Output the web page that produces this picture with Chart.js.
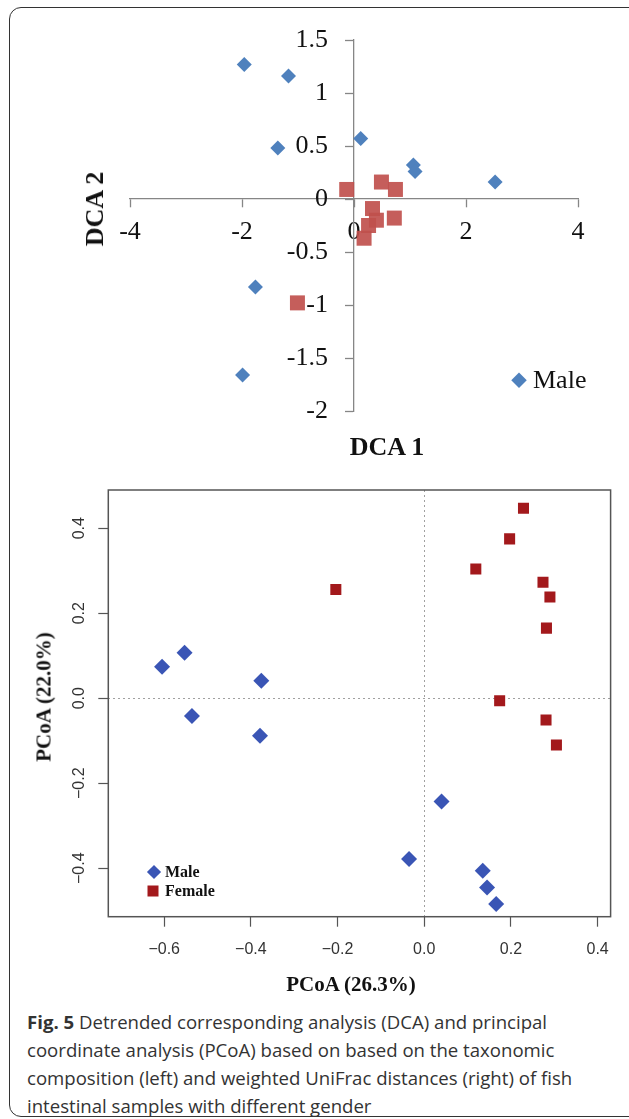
<!DOCTYPE html>
<html>
<head>
<meta charset="utf-8">
<title>Fig. 5 DCA and PCoA by gender</title>
<script src="https://cdn.jsdelivr.net/npm/chart.js@4.4.1/dist/chart.umd.min.js"></script>
<style>
  body { margin: 0; background: #fff; }
  #page { position: relative; width: 629px; height: 1119px; overflow: hidden; }
  #frame { position: absolute; left: 9px; top: 7px; width: 640px; height: 1110px;
           border: 1.5px solid #333; border-radius: 12px; box-sizing: border-box; }
  canvas { position: absolute; left: 0; }
  .lbl { position: absolute; white-space: nowrap; line-height: 1; color: #111;
         font-family: "Liberation Serif", "Times New Roman", serif; }
  .mid { transform: translate(-50%, -50%); }
  .rot { transform: translate(-50%, -50%) rotate(-90deg); }
  .leg { transform: translateY(-50%); }
  .mark { position: absolute; transform: translate(-50%, -50%); }
  #caption { position: absolute; left: 27px; top: 1008px; font-family: "Open Sans", sans-serif;
             font-size: 18.6px; line-height: 28px; color: #333; white-space: nowrap; }
</style>
</head>
<body>
<div id="page">
  <div id="frame"></div>
  <canvas id="dca" width="629" height="470" style="top:0"></canvas>
  <canvas id="pcoa" width="629" height="530" style="top:470px"></canvas>

  <div class="lbl mid" style="left:387px; top:447px; font-size:26px; font-weight:bold">DCA 1</div>
  <div class="lbl rot" style="left:95px; top:209px; font-size:26px; font-weight:bold">DCA 2</div>
  <div class="mark" style="left:519px; top:380px; width:10.6px; height:10.6px; background:#4F81BD; transform:translate(-50%,-50%) rotate(45deg)"></div>
  <div class="lbl leg" style="left:533px; top:380px; font-size:26px">Male</div>

  <div class="lbl mid" style="left:351px; top:984px; font-size:21px; font-weight:bold">PCoA (26.3%)</div>
  <div class="lbl rot" style="left:44px; top:697px; font-size:21px; font-weight:bold">PCoA (22.0%)</div>
  <div class="mark" style="left:153.5px; top:871.5px; width:10px; height:10px; background:#3A55B5; transform:translate(-50%,-50%) rotate(45deg)"></div>
  <div class="lbl leg" style="left:165px; top:872px; font-size:16px; font-weight:bold">Male</div>
  <div class="mark" style="left:153px; top:890.5px; width:11px; height:11px; background:#A3191C"></div>
  <div class="lbl leg" style="left:165px; top:891px; font-size:16px; font-weight:bold">Female</div>

  <div id="caption"><b>Fig. 5</b> Detrended corresponding analysis (DCA) and principal<br>coordinate analysis (PCoA) based on based on the taxonomic<br>composition (left) and weighted UniFrac distances (right) of fish<br>intestinal samples with different gender</div>
</div>

<script>
// DCA (top panel)
var dcaXTicks = [-4, -2, 0, 2, 4];
var dcaYTicks = [-2, -1.5, -1, -0.5, 0, 0.5, 1, 1.5];
var dcaMaleX = [-1.96, -1.17, 0.12, -1.36, 1.06, 1.09, 2.52, -1.76, -1.99];
var dcaMaleY = [1.27, 1.16, 0.57, 0.48, 0.32, 0.26, 0.16, -0.83, -1.66];
var dcaFemaleX = [-0.13, 0.49, 0.74, 0.33, 0.40, 0.72, 0.26, 0.18, -1.01];
var dcaFemaleY = [0.09, 0.16, 0.09, -0.09, -0.20, -0.18, -0.25, -0.37, -0.98];

// PCoA (bottom panel)
var pcoaXTicks = [-0.6, -0.4, -0.2, 0, 0.2, 0.4];
var pcoaXTickLabels = ['\u22120.6', '\u22120.4', '\u22120.2', '0.0', '0.2', '0.4'];
var pcoaYTicks = [-0.4, -0.2, 0, 0.2, 0.4];
var pcoaYTickLabels = ['\u22120.4', '\u22120.2', '0.0', '0.2', '0.4'];
var pcoaMaleX = [-0.605, -0.553, -0.376, -0.536, -0.379, 0.040, -0.035, 0.135, 0.145, 0.166];
var pcoaMaleY = [0.074, 0.107, 0.041, -0.042, -0.088, -0.243, -0.378, -0.406, -0.445, -0.484];
var pcoaFemaleX = [-0.204, 0.119, 0.197, 0.229, 0.274, 0.290, 0.282, 0.174, 0.281, 0.305];
var pcoaFemaleY = [0.256, 0.304, 0.375, 0.447, 0.273, 0.238, 0.165, -0.006, -0.051, -0.110];

function toPoints(xs, ys) {
    return xs.map((x, i) => ({x: x, y: ys[i]}))
}
function setTicks(values) {
    return function (scale) { scale.ticks = values.map((v) => ({value: v})) }
}

const dcaFont = {family: 'Liberation Serif', size: 26};

new Chart(document.getElementById('dca').getContext('2d'), {
    type: 'scatter',
    data: {
        datasets: [
            {label: 'Male', data: toPoints(dcaMaleX, dcaMaleY), pointStyle: 'rectRot',
             pointRadius: 7.5, backgroundColor: '#4F81BD', borderWidth: 0},
            {label: 'Female', data: toPoints(dcaFemaleX, dcaFemaleY), pointStyle: 'rect',
             pointRadius: 10.6, backgroundColor: 'rgba(192,80,77,0.92)', borderWidth: 0}
        ]
    },
    options: {
        responsive: false, animation: false, events: [],
        layout: {padding: {left: 130, right: 51, top: 40, bottom: 59}},
        plugins: {legend: {display: false}, tooltip: {enabled: false}},
        scales: {
            x: {
                type: 'linear', min: -4, max: 4, position: {y: 0},
                afterBuildTicks: setTicks(dcaXTicks),
                grid: {drawOnChartArea: false, tickLength: 8, tickColor: '#868686', tickWidth: 1.3},
                border: {color: '#868686', width: 1.3},
                ticks: {padding: 10, color: '#111', font: dcaFont, autoSkip: false, callback: (v) => String(v)}
            },
            y: {
                type: 'linear', min: -2, max: 1.5, position: {x: 0},
                afterBuildTicks: setTicks(dcaYTicks),
                grid: {drawOnChartArea: false, tickLength: 8, tickColor: '#868686', tickWidth: 1.3},
                border: {color: '#868686', width: 1.3},
                // labels on a value-positioned axis sit right on it, so pad with spaces
                ticks: {color: '#111', font: dcaFont, autoSkip: false, callback: (v) => String(v) + '    '}
            }
        }
    }
});

// box round the R plot region
const framePlugin = {
    id: 'frame',
    afterDatasetsDraw(chart) {
        const a = chart.chartArea, c = chart.ctx;
        c.save();
        c.strokeStyle = '#555';
        c.lineWidth = 1.5;
        c.strokeRect(a.left, a.top, a.right - a.left, a.bottom - a.top);
        c.restore();
    }
};
const zeroDotted = (ctx) => (ctx.tick && ctx.tick.value === 0) ? '#a0a0a0' : 'rgba(0,0,0,0)';
const pcoaFont = {family: 'Liberation Sans', size: 16};

new Chart(document.getElementById('pcoa').getContext('2d'), {
    type: 'scatter',
    data: {
        datasets: [
            {label: 'Male', data: toPoints(pcoaMaleX, pcoaMaleY), pointStyle: 'rectRot',
             pointRadius: 8, backgroundColor: '#3A55B5', borderWidth: 0},
            {label: 'Female', data: toPoints(pcoaFemaleX, pcoaFemaleY), pointStyle: 'rect',
             pointRadius: 7.8, backgroundColor: '#A3191C', borderWidth: 0}
        ]
    },
    plugins: [framePlugin],
    options: {
        responsive: false, animation: false, events: [],
        layout: {padding: {left: 0, right: 18.4, top: 20, bottom: 0}},
        plugins: {legend: {display: false}, tooltip: {enabled: false}},
        scales: {
            x: {
                type: 'linear', min: -0.729, max: 0.430,
                afterBuildTicks: setTicks(pcoaXTicks),
                afterFit: (s) => { s.height = 83.3 },
                grid: {color: zeroDotted, lineWidth: 1, tickLength: 10, tickColor: '#555', tickWidth: 1.2},
                border: {display: false, dash: [2, 3]},
                ticks: {padding: 13, color: '#333', font: pcoaFont, autoSkip: false,
                        callback: (v, i) => pcoaXTickLabels[i]}
            },
            y: {
                type: 'linear', min: -0.514, max: 0.490,
                afterBuildTicks: setTicks(pcoaYTicks),
                afterFit: (s) => { s.width = 108.3 },
                grid: {color: zeroDotted, lineWidth: 1, tickLength: 10, tickColor: '#555', tickWidth: 1.2},
                border: {display: false, dash: [2, 3]},
                ticks: {padding: 3, minRotation: 90, crossAlign: 'center', color: '#333', font: pcoaFont,
                        autoSkip: false, callback: (v, i) => pcoaYTickLabels[i]}
            }
        }
    }
});
</script>
</body>
</html>
